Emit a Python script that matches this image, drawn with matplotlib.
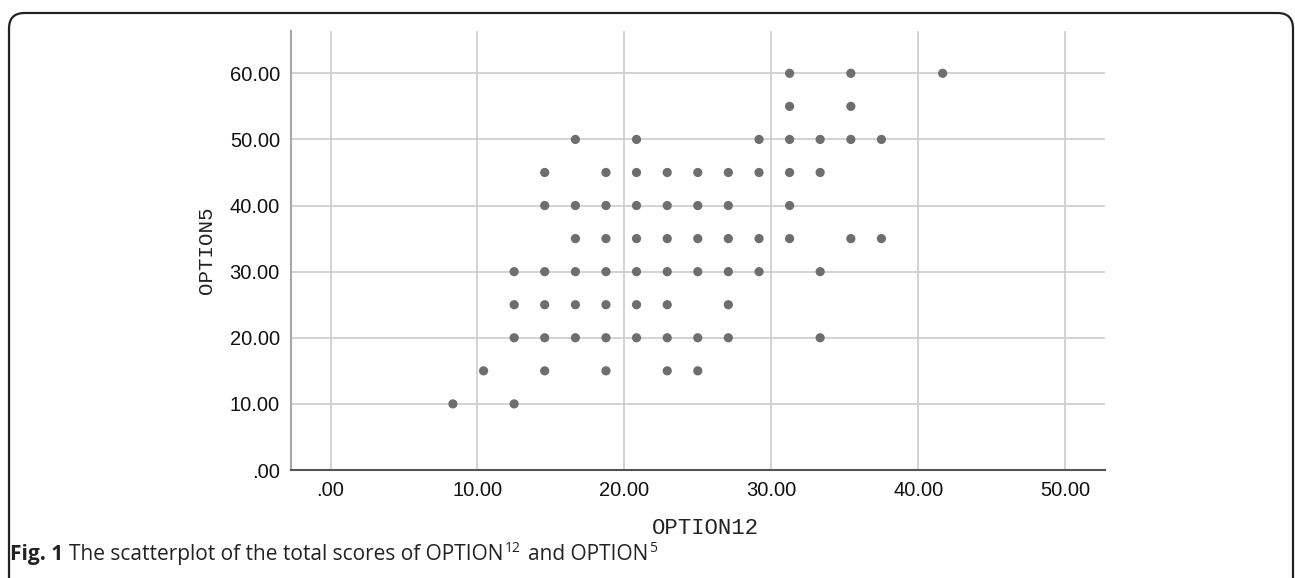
import matplotlib
matplotlib.use("Agg")
import matplotlib.pyplot as plt
from matplotlib.patches import FancyBboxPatch

# Data: OPTION12 total score (x) and OPTION5 total score (y), one row per OPTION5 level
row_60 = [31.25, 35.42, 41.67]
row_55 = [31.25, 35.42]
row_50 = [16.67, 20.83, 29.17, 31.25, 33.33, 35.42, 37.50]
row_45 = [14.58, 18.75, 20.83, 22.92, 25.00, 27.08, 29.17, 31.25, 33.33]
row_40 = [14.58, 16.67, 18.75, 20.83, 22.92, 25.00, 27.08, 31.25]
row_35 = [16.67, 18.75, 20.83, 22.92, 25.00, 27.08, 29.17, 31.25, 35.42, 37.50]
row_30 = [12.50, 14.58, 16.67, 18.75, 20.83, 22.92, 25.00, 27.08, 29.17, 33.33]
row_25 = [12.50, 14.58, 16.67, 18.75, 20.83, 22.92, 27.08]
row_20 = [12.50, 14.58, 16.67, 18.75, 20.83, 22.92, 25.00, 27.08, 33.33]
row_15 = [10.42, 14.58, 18.75, 22.92, 25.00]
row_10 = [8.33, 12.50]

rows = {60: row_60, 55: row_55, 50: row_50, 45: row_45, 40: row_40, 35: row_35,
        30: row_30, 25: row_25, 20: row_20, 15: row_15, 10: row_10}
option12 = [x for yv, xs in rows.items() for x in xs]
option5 = [yv for yv, xs in rows.items() for x in xs]

x_ticks = [0, 10, 20, 30, 40, 50]
y_ticks = [0, 10, 20, 30, 40, 50, 60]
x_ticklabels = [".00", "10.00", "20.00", "30.00", "40.00", "50.00"]
y_ticklabels = [".00", "10.00", "20.00", "30.00", "40.00", "50.00", "60.00"]

W, H = 1295, 578
fig = plt.figure(figsize=(W / 100, H / 100), dpi=100)

# outer rounded frame
frame = FancyBboxPatch((9 / W, -20 / H), (1293 - 9) / W, (H - 13 + 20) / H,
                       boxstyle="round,pad=0,rounding_size=0.012",
                       transform=fig.transFigure, fill=False,
                       edgecolor="#222222", linewidth=1.6, mutation_aspect=W / H)
fig.patches.append(frame)

ax = fig.add_axes([291 / W, (H - 470) / H, (1105 - 291) / W, (470 - 31) / H])
ax.set_xlim(-2.69, 52.72)
ax.set_ylim(0, 66.4)
ax.set_xticks(x_ticks)
ax.set_yticks(y_ticks)
ax.set_xticklabels(x_ticklabels)
ax.set_yticklabels(y_ticklabels)
ax.tick_params(length=0, labelsize=14.5, labelcolor="#111111", pad=8)
for lab in ax.get_xticklabels() + ax.get_yticklabels():
    lab.set_family("Liberation Sans")
ax.grid(True, color="#cccccc", linewidth=1.2)
ax.set_axisbelow(True)
for s in ["top", "right"]:
    ax.spines[s].set_visible(False)
ax.spines["left"].set_color("#a8a8a8")
ax.spines["left"].set_linewidth(1.5)
ax.spines["bottom"].set_color("#555555")
ax.spines["bottom"].set_linewidth(1.5)

ax.scatter(option12, option5, s=44, color="#6e6e6e", edgecolors="none", zorder=3)

ax.set_xlabel("OPTION12", family="Liberation Mono", fontsize=16, color="#222222", va="center")
ax.xaxis.set_label_coords((705 - 291) / (1105 - 291), (470 - 529) / (470 - 31))
ax.set_ylabel("OPTION5", family="Liberation Mono", fontsize=15, labelpad=10, color="#222222")

# caption, laid out piece by piece (sequential flow)
fig.canvas.draw()
r = fig.canvas.get_renderer()
base_y = (H - 560) / H
cap_kw = dict(family="Open Sans", fontsize=15, color="#222222")


def put(text, x_px, y=base_y, **kw):
    t = fig.text(x_px / W, y, text, **{**cap_kw, **kw})
    return t.get_window_extent(renderer=r).x1


e = put("Fig. 1", 10, weight="bold")
e = put("The scatterplot of the total scores of OPTION", e + 6)
e = put("12", e + 1, y=base_y + 8 / H, fontsize=10)
e = put("and OPTION", e + 7)
put("5", e + 1, y=base_y + 8 / H, fontsize=10)

fig.savefig("out.png", dpi=100)
